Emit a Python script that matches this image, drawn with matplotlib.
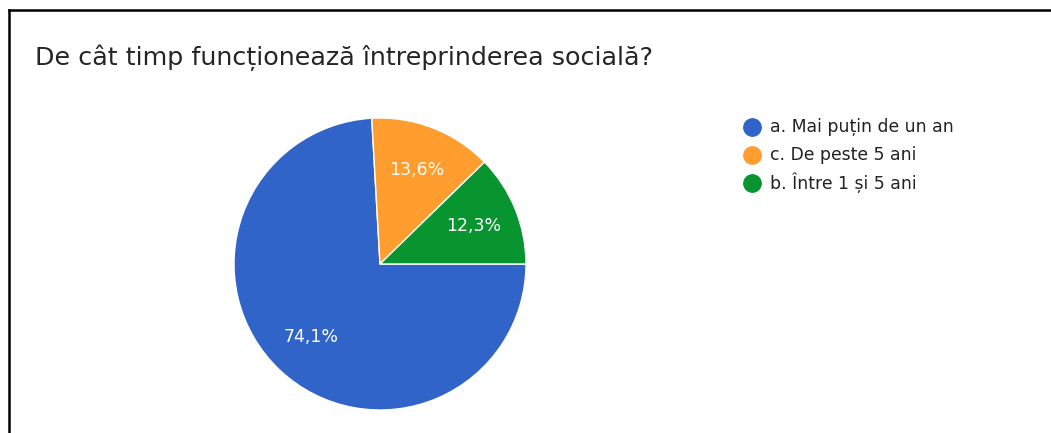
import matplotlib
matplotlib.use("Agg")
import matplotlib.pyplot as plt
from matplotlib.lines import Line2D

# survey answers, in the order the slices are drawn (clockwise from 3 o'clock)
labels = ["a. Mai puțin de un an", "c. De peste 5 ani", "b. Între 1 și 5 ani"]
shares = [74.1, 13.6, 12.3]
colors = ["#3164c8", "#ff9d2e", "#08952f"]
title = "De cât timp funcționează întreprinderea socială?"

W, H = 1051, 433
plt.rcParams["font.family"] = ["DejaVu Sans"]

fig = plt.figure(figsize=(W / 100, H / 100), dpi=100)
fig.patch.set_facecolor("white")

# pixel-space overlay for the frame, title and legend
over = fig.add_axes([0, 0, 1, 1])
over.set_xlim(0, W)
over.set_ylim(H, 0)
over.axis("off")

# frame: left and top edges only, the rest runs off the image
over.add_line(Line2D([9, 9], [H + 5, 10], color="black", lw=1.8))
over.add_line(Line2D([9, W + 5], [10, 10], color="black", lw=1.8))

over.text(35, 58, title, fontsize=18.3, color="#252525", va="center", ha="left")

# pie, centred at (380, 264) px with radius 146 px
cx, cy, r = 380, 264, 146
box = 160
ax = fig.add_axes([(cx - box) / W, (H - cy - box) / H, 2 * box / W, 2 * box / H])


def fmt(pct):
    return f"{pct:.1f}%".replace(".", ",")


wedges, texts, autotexts = ax.pie(
    shares, colors=colors, startangle=0, counterclock=False,
    autopct=fmt, pctdistance=0.69, radius=1.0,
    wedgeprops=dict(edgecolor="white", linewidth=1.0),
    textprops=dict(color="white", fontsize=12.5),
)
lim = box / r
ax.set_xlim(-lim, lim)
ax.set_ylim(-lim, lim)
ax.set_aspect("equal")
ax.axis("off")

# legend
for i, (lab, col) in enumerate(zip(labels, colors)):
    y = 127 + i * 28
    over.plot([752], [y], marker="o", markersize=12.5, color=col, linestyle="none")
    over.text(770, y, lab, fontsize=12.4, color="#222222", va="center", ha="left")

fig.savefig("out.png", dpi=100, facecolor="white")
